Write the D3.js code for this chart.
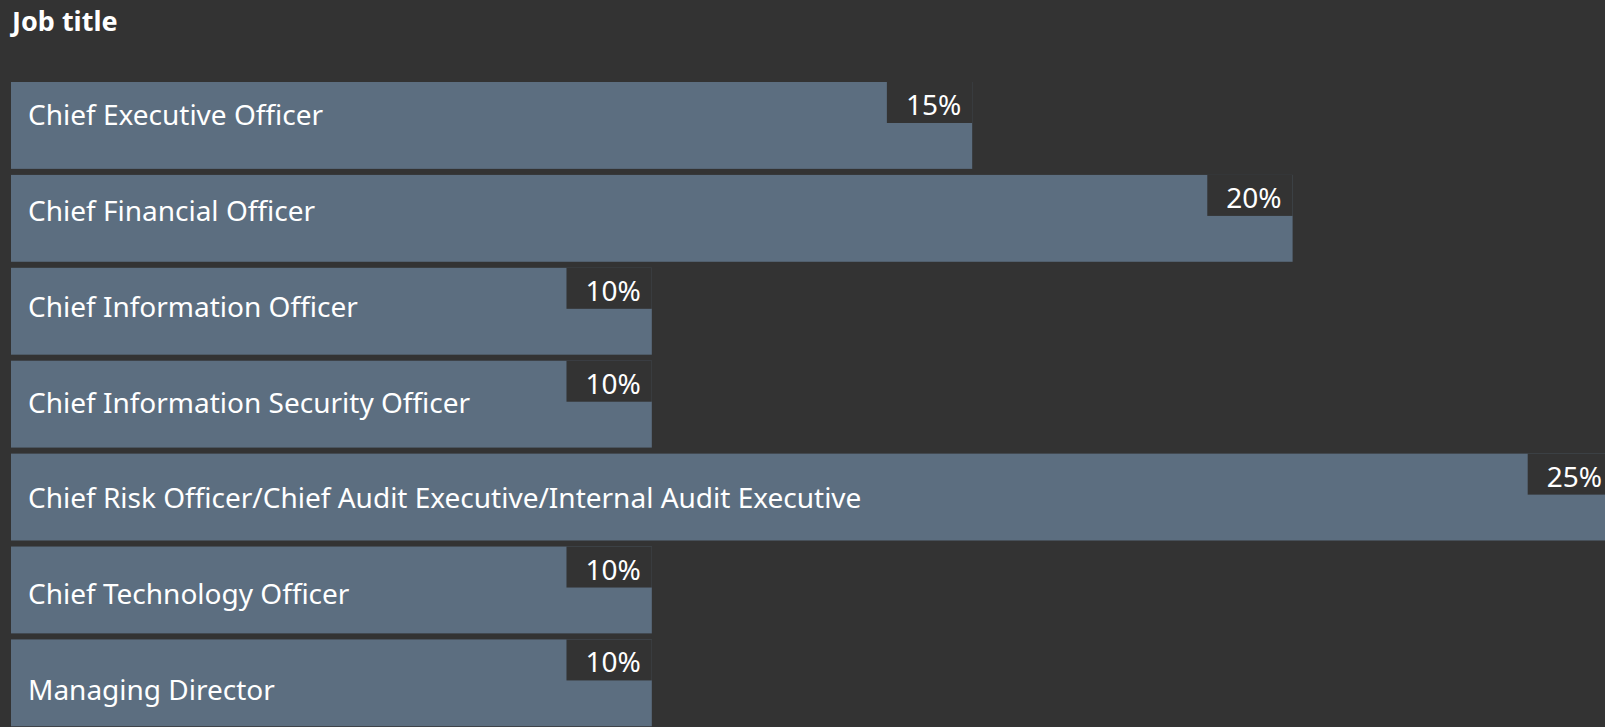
<!DOCTYPE html>
<html>
<head>
<meta charset="utf-8">
<script src="https://cdn.jsdelivr.net/npm/d3@7"></script>
<style>
  html, body { margin: 0; padding: 0; background: #333333; overflow: hidden; }
  svg { display: block; }
  text { font-family: "Noto Sans", "Open Sans", sans-serif; fill: #ffffff; }
</style>
</head>
<body>
<div id="chart"></div>
<script>
// data
const title = 'Job title';
const categories = [
    'Chief Executive Officer',
    'Chief Financial Officer',
    'Chief Information Officer',
    'Chief Information Security Officer',
    'Chief Risk Officer/Chief Audit Executive/Internal Audit Executive',
    'Chief Technology Officer',
    'Managing Director',
];
const values = [15, 20, 10, 10, 25, 10, 10];

const width = 1605;
const height = 727;
const barColor = '#5c6e80';
const bg = '#333333';

const rows = categories.map((c, i) => ({ key: c, value: values[i] }));

const svg = d3.select('#chart').append('svg')
    .attr('width', width)
    .attr('height', height);

svg.append('rect')
    .attr('width', width)
    .attr('height', height)
    .attr('fill', bg);

svg.append('text')
    .attr('x', 12)
    .attr('y', 31)
    .attr('font-size', 27)
    .attr('font-weight', 700)
    .text(title);

const x = d3.scaleLinear()
    .domain([0, 25])
    .range([11, 1613]);

const y = d3.scaleBand()
    .domain(categories)
    .range([82, 82 + 7 * 92.9 - 6])
    .paddingInner(0.065)
    .paddingOuter(0);

// category labels sit on a slightly wider pitch than the bars
const yLabel = d3.scalePoint()
    .domain(categories)
    .range([125, 700]);

const g = svg.append('g');

const bar = g.selectAll('.bar')
    .data(rows, (d) => d.key)
    .enter()
    .append('g')
    .attr('class', 'bar');

bar.append('rect')
    .attr('x', x(0))
    .attr('y', (d) => y(d.key))
    .attr('width', (d) => x(d.value) - x(0))
    .attr('height', y.bandwidth())
    .attr('fill', barColor);

bar.append('text')
    .attr('x', 28)
    .attr('y', (d) => yLabel(d.key))
    .attr('font-size', 28)
    .text((d) => d.key);

// value tag: dark box cut into the bar's top-right corner
const valueText = bar.append('text')
    .attr('class', 'value')
    .attr('x', (d) => x(d.value) - 11)
    .attr('y', (d) => y(d.key) + 33)
    .attr('text-anchor', 'end')
    .attr('font-size', 28)
    .text((d) => `${d.value}%`);

valueText.each(function (d) {
    const w = this.getComputedTextLength();
    d3.select(this.parentNode)
        .insert('rect', '.value')
        .attr('x', x(d.value) - 11 - w - 19)
        .attr('y', y(d.key))
        .attr('width', w + 30)
        .attr('height', 41)
        .attr('fill', bg);
});
</script>
</body>
</html>
